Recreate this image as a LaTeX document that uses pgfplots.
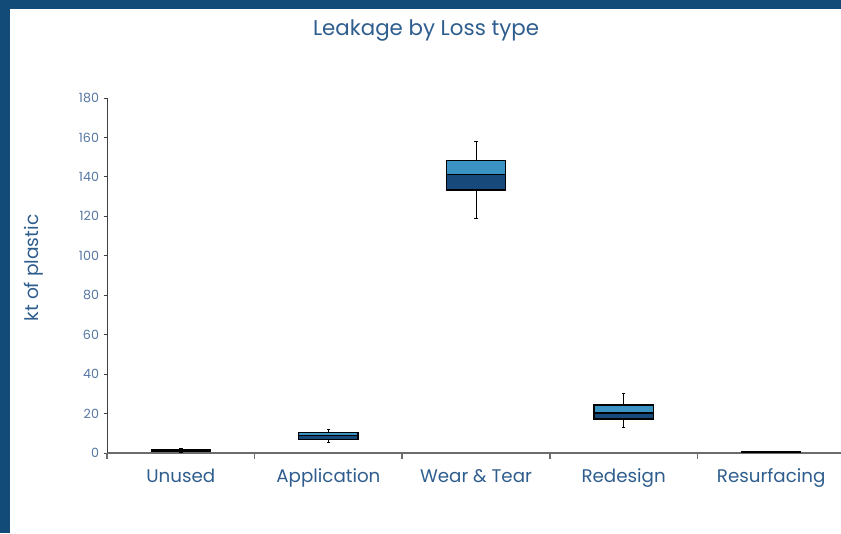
\documentclass[border=0pt]{standalone}
\usepackage{fontspec}
\setmainfont{Poppins}
\usepackage{pgfplots}
\pgfplotsset{compat=1.18}
\usetikzlibrary{plotmarks}

\definecolor{frame}{HTML}{124A78}
\definecolor{dkbox}{HTML}{174A7A}
\definecolor{ltbox}{HTML}{3B93C3}
\definecolor{txt}{HTML}{2F5E8E}
\definecolor{ticktxt}{HTML}{5577A3}

% #1 left, #2 centre, #3 right, #4 lower whisker, #5 lower quartile,
% #6 median, #7 upper quartile, #8 upper whisker
\newcommand{\bx}[8]{%
  \addplot[black,line width=0.6pt,mark=-,mark size=1.3pt,mark options={solid,line width=0.6pt}]
    coordinates {(#2,#7) (#2,#8)};
  \addplot[black,line width=0.6pt,mark=-,mark size=1.3pt,mark options={solid,line width=0.6pt}]
    coordinates {(#2,#5) (#2,#4)};
  \addplot[fill=dkbox,draw=none] coordinates {(#1,#5) (#3,#5) (#3,#6) (#1,#6)} -- cycle;
  \addplot[fill=ltbox,draw=none] coordinates {(#1,#6) (#3,#6) (#3,#7) (#1,#7)} -- cycle;
  \addplot[black,line width=0.9pt] coordinates {(#1,#5) (#3,#5) (#3,#7) (#1,#7)} -- cycle;
  \addplot[black,line width=0.9pt] coordinates {(#1,#6) (#3,#6)};
}

\begin{document}
\begin{tikzpicture}
  \useasboundingbox (0,0) rectangle (630.75pt,399.75pt);
  \clip (0,0) rectangle (630.75pt,399.75pt);
  \begin{scope}[x=0.75pt,y=0.75pt]
    \fill[white] (0,0) rectangle (841,533);
    \fill[frame] (0,0) rectangle (10,533);
    \fill[frame] (0,524) rectangle (841,533);
    \node[txt,font=\fontsize{16}{18}\selectfont] at (426,503) {Leakage by Loss type};
    \node[txt,rotate=90,font=\fontsize{14}{16}\selectfont] at (34,265) {kt of plastic};
  \end{scope}

  \begin{axis}[
    at={(80.25pt,60pt)}, anchor=south west,
    scale only axis,
    width=553.5pt, height=266.25pt,
    xmin=-0.5, xmax=4.5,
    ymin=0, ymax=180,
    axis lines*=left,
    tick align=outside,
    x axis line style={draw=gray!85!black,line width=1.1pt},
    y axis line style={draw=black!75,line width=0.7pt},
    ytick={0,20,...,180},
    yticklabel style={ticktxt,font=\fontsize{9.5}{11}\selectfont},
    ytick style={draw=black!75,line width=0.7pt},
    major tick length=2.5pt,
    xtick={0,1,2,3,4},
    xticklabels={Unused,Application,Wear \& Tear,Redesign,Resurfacing},
    xtick style={draw=none},
    xticklabel style={txt,font=\fontsize{13.7}{15}\selectfont,anchor=base,yshift=-19.5pt},
    extra x ticks={-0.5,0.5,1.5,2.5,3.5,4.5},
    extra x tick labels={},
    extra x tick style={major tick length=4.5pt,
      xtick style={draw=gray!85!black,line width=1.1pt}},
    /pgf/number format/assume math mode=true,
    clip=false,
  ]
    \bx{-0.2}{0}{0.2}{0.5}{0.8}{1.2}{1.8}{2.3}
    \bx{0.8}{1}{1.2}{5.6}{6.9}{8.8}{10.5}{12.0}
    \bx{1.8}{2}{2.2}{118.8}{133.4}{141.1}{148.2}{157.9}
    \bx{2.8}{3}{3.2}{13.2}{17.2}{20.3}{24.3}{30.3}
    \bx{3.8}{4}{4.2}{0.1}{0.3}{0.5}{0.7}{0.9}
  \end{axis}
\end{tikzpicture}
\end{document}
